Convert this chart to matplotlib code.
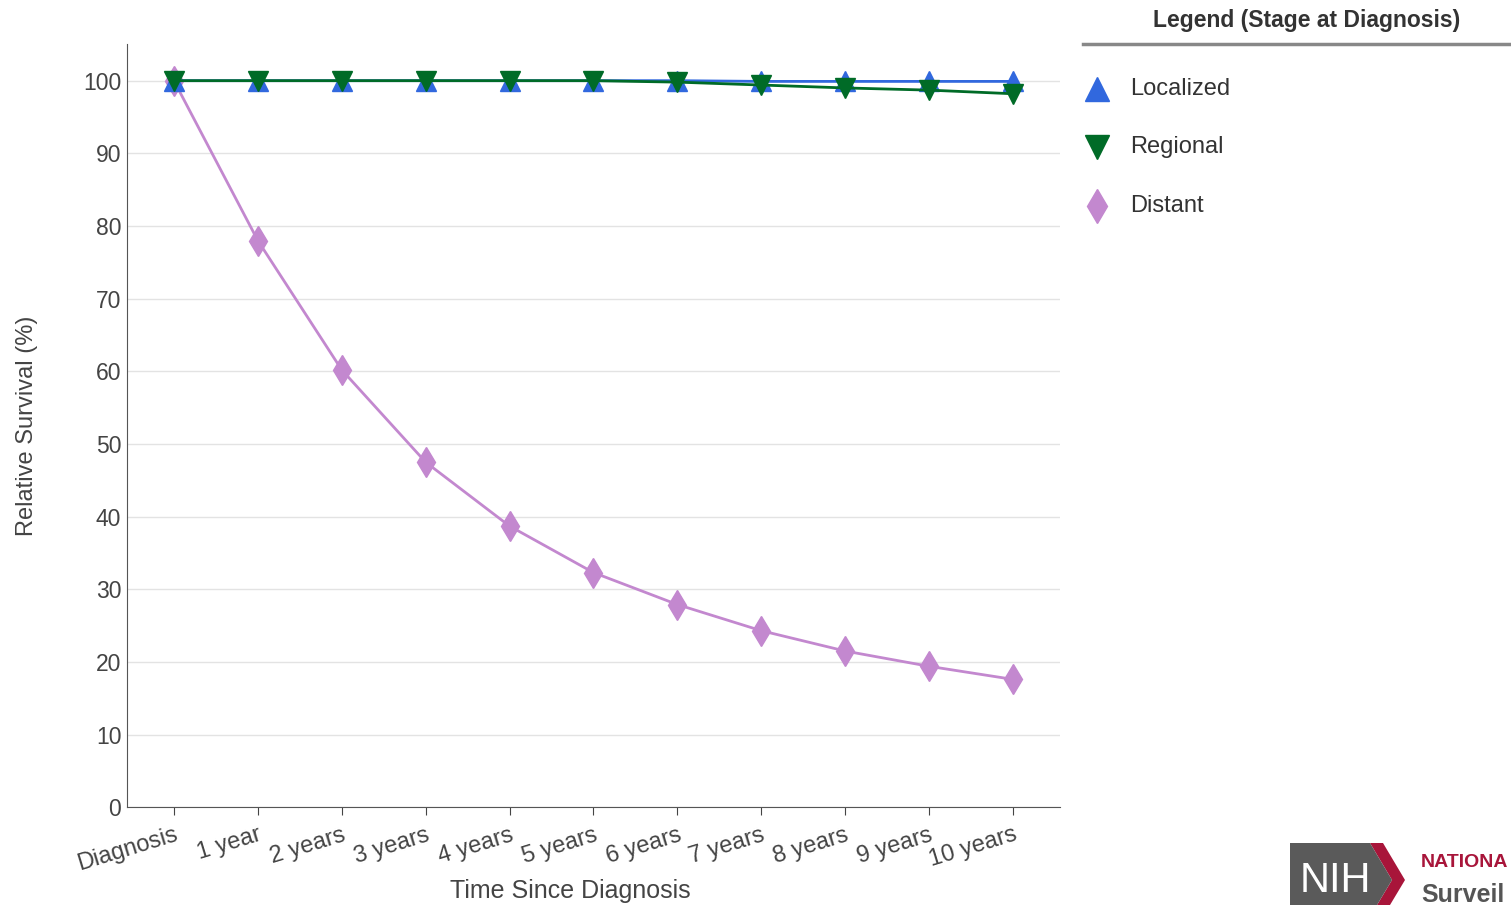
import numpy as np
import matplotlib.pyplot as plt
from matplotlib.lines import Line2D
from matplotlib.patches import Polygon, Rectangle

plt.rcParams['font.family'] = ['Liberation Sans', 'DejaVu Sans']

# donnees
periodes = ['Diagnosis', '1 year', '2 years', '3 years', '4 years', '5 years',
            '6 years', '7 years', '8 years', '9 years', '10 years']
localized = [100, 100, 100, 100, 100, 100, 100, 99.9, 99.9, 99.9, 99.9]
regional = [100, 100, 100, 100, 100, 100, 99.8, 99.4, 99.0, 98.7, 98.2]
distant = [100, 78.0, 60.2, 47.5, 38.7, 32.3, 27.9, 24.3, 21.5, 19.4, 17.6]

series = ['Localized', 'Regional', 'Distant']
marqueurs = {'Localized': '^', 'Regional': 'v', 'Distant': 'd'}
couleurs = {'Localized': '#3168de', 'Regional': '#006b27', 'Distant': '#c388cf'}

fig = plt.figure(figsize=(15.11, 9.05), dpi=100)
ax = fig.add_axes([0.084, 0.108, 0.6175, 0.843])

x = np.arange(len(periodes))
ax.plot(x, distant, color=couleurs['Distant'], lw=2, marker='d', ms=15, zorder=3)
ax.plot(x, localized, color=couleurs['Localized'], lw=2, marker='^', ms=15, zorder=4)
ax.plot(x, regional, color=couleurs['Regional'], lw=2, marker='v', ms=15, zorder=5)

ax.set_xlim(-0.56, 10.56)
ax.set_ylim(0, 105)
ax.set_yticks(range(0, 101, 10))
ax.set_xticks(x)
ax.set_xticklabels(periodes, rotation=17, ha='right', rotation_mode='anchor',
                   fontsize=17, color='#444444')
ax.tick_params(axis='x', length=6, color='#444444', pad=6)
ax.tick_params(axis='y', length=0, labelsize=16.5, labelcolor='#444444', pad=4)
ax.grid(axis='y', color='#e3e3e3', lw=1)
ax.set_axisbelow(True)
for s in ['top', 'right']:
    ax.spines[s].set_visible(False)
for s in ['left', 'bottom']:
    ax.spines[s].set_color('#555555')
ax.set_xlabel('Time Since Diagnosis', fontsize=18, color='#444444')
ax.set_ylabel('Relative Survival (%)', fontsize=17, color='#444444')
ax.xaxis.set_label_coords(0.475, -0.094)
ax.yaxis.set_label_coords(-0.095, 0.5)

# legende a droite
fig.text(1307 / 1511, 1 - 20 / 905, 'Legend (Stage at Diagnosis)', ha='center', va='center',
         fontsize=16.5, fontweight='bold', color='#333333')
fig.add_artist(Line2D([1083 / 1511, 1.0], [1 - 44 / 905] * 2, color='#888888', lw=2.5))
for i, nom in enumerate(series):
    yy = 1 - (89 + i * 58.5) / 905
    fig.add_artist(Line2D([1097 / 1511], [yy], ls='none', marker=marqueurs[nom], ms=17,
                          color=couleurs[nom]))
    fig.text(1130 / 1511, yy, nom, ha='left', va='center', fontsize=17, color='#333333')

# logo NIH (approximatif)
fig.add_artist(Rectangle((1290 / 1511, 0), 80 / 1511, 62 / 905, transform=fig.transFigure,
                         color='#5a5a5a', lw=0))
fig.add_artist(Polygon([(1370 / 1511, 62 / 905), (1383 / 1511, 62 / 905), (1405 / 1511, 25 / 905),
                        (1390 / 1511, 0), (1377 / 1511, 0), (1392 / 1511, 25 / 905)],
                       closed=True, transform=fig.transFigure, color='#a8153a', lw=0))
fig.add_artist(Polygon([(1370 / 1511, 62 / 905), (1392 / 1511, 25 / 905), (1377 / 1511, 0),
                        (1370 / 1511, 0)], closed=True, transform=fig.transFigure,
                       color='#5a5a5a', lw=0))
fig.text(1335 / 1511, 24 / 905, 'NIH', ha='center', va='center', fontsize=30,
         color='white')
fig.text(1421 / 1511, 43 / 905, 'NATIONA', ha='left', va='center', fontsize=14,
         fontweight='bold', color='#a8153a')
fig.text(1421 / 1511, 10 / 905, 'Surveil', ha='left', va='center', fontsize=18,
         fontweight='bold', color='#555555')

fig.savefig('out.png', dpi=100)
